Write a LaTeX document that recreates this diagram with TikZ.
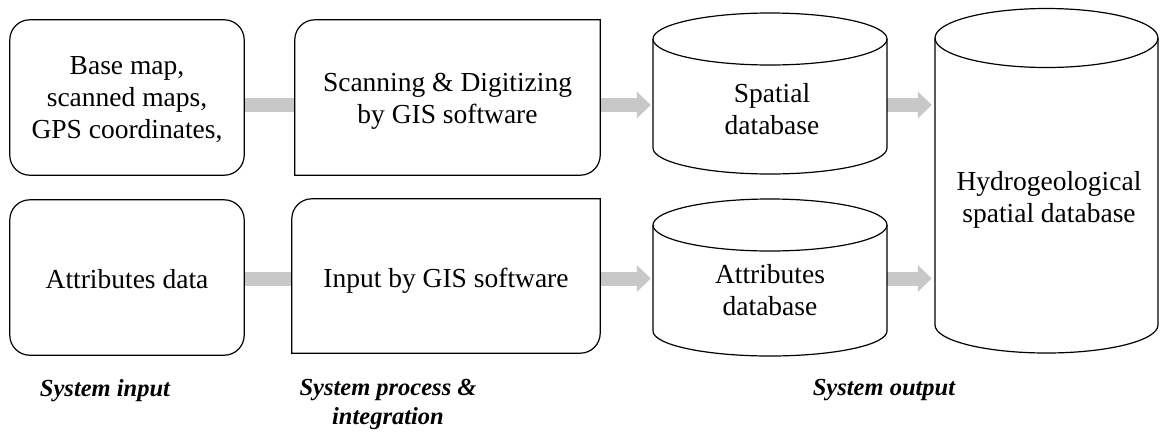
\documentclass[tikz,border=0pt]{standalone}
\usepackage{fontspec}
\setmainfont{Liberation Serif}
\usetikzlibrary{arrows.meta}
\definecolor{arrowgray}{RGB}{200,200,200}
\begin{document}
\begin{tikzpicture}[x=1pt,y=-1pt,
  outline/.style={draw=black, line width=1.2pt},
  frame/.style={rectangle, inner sep=0pt, draw=none},
  bar/.style={draw=arrowgray, line width=14pt},
  fat/.style={bar, -{Triangle[length=14pt,width=26pt]}},
  txt/.style={align=center, inner sep=0pt, font=\fontsize{27.5}{32}\selectfont},
  lab/.style={align=center, inner sep=0pt, anchor=north, font=\bfseries\itshape\fontsize{24.5}{29}\selectfont}]
\useasboundingbox (0,0) rectangle (1160,437);

% shape nodes
\node[frame, minimum width=234pt, minimum height=155pt] (b1) at (127,97.5) {};
\node[frame, minimum width=305pt, minimum height=155pt] (b2) at (447.5,97.5) {};
\node[frame, minimum width=234pt, minimum height=155pt] (b3) at (127,277.5) {};
\node[frame, minimum width=308pt, minimum height=154pt] (b4) at (446,276) {};
\node[frame, minimum width=234pt, minimum height=161pt] (sdb) at (770,93.5) {};
\node[frame, minimum width=234pt, minimum height=157pt] (adb) at (770,277.5) {};
\node[frame, minimum width=223pt, minimum height=344pt] (hdb) at (1046.5,181) {};

\coordinate (r1) at (0,105);
\coordinate (r2) at (0,278.5);

% connectors
\draw[bar] (b1.east |- r1) -- (b2.west |- r1);
\draw[bar] (b3.east |- r2) -- (b4.west |- r2);
\draw[fat, shorten >=2pt] (b2.east |- r1) -- (sdb.west |- r1);
\draw[fat, shorten >=2pt] (b4.east |- r2) -- (adb.west |- r2);
\draw[fat, shorten >=3pt] (sdb.east |- r1) -- (hdb.west |- r1);
\draw[fat, shorten >=3pt] (adb.east |- r2) -- (hdb.west |- r2);

% boxes
\draw[outline, rounded corners=20pt] (b1.south west) rectangle (b1.north east);
\draw[outline, rounded corners=20pt] (b3.south west) rectangle (b3.north east);
\draw[outline] (b2.south west) -- ([yshift=-20pt]b2.north west) arc[start angle=180, end angle=90, radius=20pt]
  -- (b2.north east) -- ([yshift=20pt]b2.south east) arc[start angle=0, end angle=-90, radius=20pt] -- cycle;
\draw[outline] (b4.south west) -- ([yshift=-20pt]b4.north west) arc[start angle=180, end angle=90, radius=20pt]
  -- (b4.north east) -- ([yshift=20pt]b4.south east) arc[start angle=0, end angle=-90, radius=20pt] -- cycle;

% cylinders
\draw[outline] (653,39) -- (653,148) arc[start angle=180, end angle=360, x radius=117pt, y radius=26pt] -- (887,39);
\draw[outline] (770,39) ellipse [x radius=117pt, y radius=26pt];
\draw[outline] (653,225) -- (653,331) arc[start angle=180, end angle=360, x radius=117pt, y radius=25pt] -- (887,225);
\draw[outline] (770,225) ellipse [x radius=117pt, y radius=26pt];
\draw[outline] (935,38) -- (935,325) arc[start angle=180, end angle=360, x radius=111.5pt, y radius=28pt] -- (1158,38);
\draw[outline] (1046.5,38) ellipse [x radius=111.5pt, y radius=29.5pt];

% texts
\node[txt] (t1) at (127,100) {Base map,\\scanned maps,\\GPS coordinates,};
\node[txt] (t2) at (447.5,101.6) {Scanning \& Digitizing\\by GIS software};
\node[txt] (t3) at (127,279) {Attributes data};
\node[txt] (t4) at (446,281) {Input by GIS software};
\node[txt] (t5) at (772,108.6) {Spatial\\database};
\node[txt] (t6) at (770,290) {Attributes\\database};
\node[txt] (t7) at (1049,199.5) {Hydrogeological\\spatial database};

% labels
\node[lab] (l1) at (105,379.4) {System input};
\node[lab] (l2) at (388,379.4) {System process \&\\integration};
\node[lab] (l3) at (884,379.4) {System output};
\end{tikzpicture}
\end{document}
